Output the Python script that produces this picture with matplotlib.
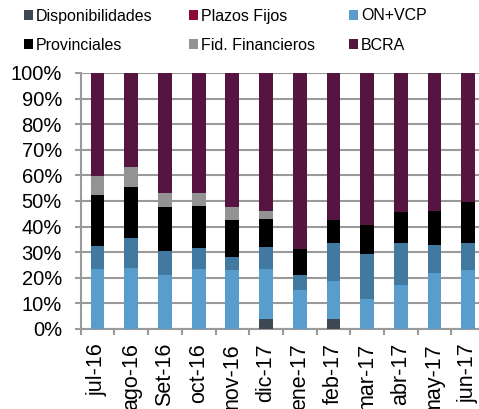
import matplotlib
matplotlib.use("Agg")
import matplotlib.pyplot as plt
import numpy as np

plt.rcParams['font.family'] = ['Liberation Sans', 'DejaVu Sans']

categories = ["jul-16", "ago-16", "Set-16", "oct-16", "nov-16", "dic-17",
              "ene-17", "feb-17", "mar-17", "abr-17", "may-17", "jun-17"]

# shares in %
disponibilidades = [0, 0, 0, 0, 0, 3.9, 0, 3.9, 0, 0, 0, 0]
plazos_fijos     = [0, 0, 0, 0, 0, 0, 0, 0, 0, 0, 0, 0]
on_vcp           = [23.5, 23.9, 21.2, 23.5, 23.2, 19.7, 15.1, 14.9, 11.6, 17.3, 21.7, 23.0]
otros_blue       = [9.1, 11.6, 9.3, 8.3, 5.0, 8.6, 5.9, 14.6, 17.6, 16.2, 11.0, 10.6]
provinciales     = [19.6, 20.1, 17.3, 16.4, 14.5, 10.9, 10.2, 9.1, 11.3, 12.1, 13.5, 16.1]
fid_financieros  = [7.7, 7.6, 5.3, 4.8, 4.8, 3.1, 0, 0, 0, 0, 0, 0]
bcra             = [40.1, 36.8, 46.9, 47.0, 52.5, 53.8, 68.8, 57.5, 59.5, 54.4, 53.8, 50.3]

series = [
    ("Disponibilidades", disponibilidades, "#3e4852"),
    ("Plazos Fijos", plazos_fijos, "#8c0a36"),
    ("ON+VCP", on_vcp, "#599dcc"),
    (None, otros_blue, "#4179a0"),
    ("Provinciales", provinciales, "#000000"),
    ("Fid. Financieros", fid_financieros, "#939393"),
    ("BCRA", bcra, "#561440"),
]

fig = plt.figure(figsize=(4.79, 4.09), dpi=100)
ax = fig.add_axes([80.7 / 479, 80 / 409, 404.4 / 479, 256 / 409])

x = np.arange(len(categories))
bottom = np.zeros(len(categories))
handles = {}
for name, vals, col in series:
    v = np.array(vals, dtype=float)
    b = ax.bar(x, v, bottom=bottom, width=0.41, color=col, zorder=3)
    if name:
        handles[name] = b
    bottom += v

ax.set_xlim(-0.5, len(categories) - 0.5)
ax.set_ylim(0, 100)
ax.set_yticks(np.arange(0, 101, 10))
ax.set_yticklabels([f"{v}%" for v in range(0, 101, 10)], fontsize=14.5)
ax.yaxis.grid(True, color="#9a9a9a", linewidth=1.5, zorder=0)
ax.set_axisbelow(True)

ax.set_xticks(x)
ax.set_xticklabels(categories, rotation=90, fontsize=15.5)
ax.set_xticks(np.arange(-0.5, len(categories), 1), minor=True)
ax.tick_params(axis='x', which='major', length=0, pad=10)
ax.tick_params(axis='x', which='minor', length=4, width=1.5, color="#9a9a9a")
ax.tick_params(axis='y', length=4.5, width=1.5, color="#9a9a9a", pad=9)

for s in ['top', 'right']:
    ax.spines[s].set_visible(False)
for s in ['left', 'bottom']:
    ax.spines[s].set_color("#9a9a9a")
    ax.spines[s].set_linewidth(1.5)

# legend (2 rows x 3 cols, row-major)
order = ["Disponibilidades", "Plazos Fijos", "ON+VCP",
         "Provinciales", "Fid. Financieros", "BCRA"]
cols_pos = [24 / 479, 189 / 479, 349 / 479]
rows_pos = [1 - 16 / 409, 1 - 45 / 409]
for i, name in enumerate(order):
    r, c = divmod(i, 3)
    leg = fig.legend([handles[name]], [name], loc='center left',
                     bbox_to_anchor=(cols_pos[c], rows_pos[r]),
                     frameon=False, fontsize=11.5, handlelength=0.55,
                     handleheight=0.55, handletextpad=0.2, borderpad=0,
                     borderaxespad=0)

fig.savefig("out.png", dpi=100)
